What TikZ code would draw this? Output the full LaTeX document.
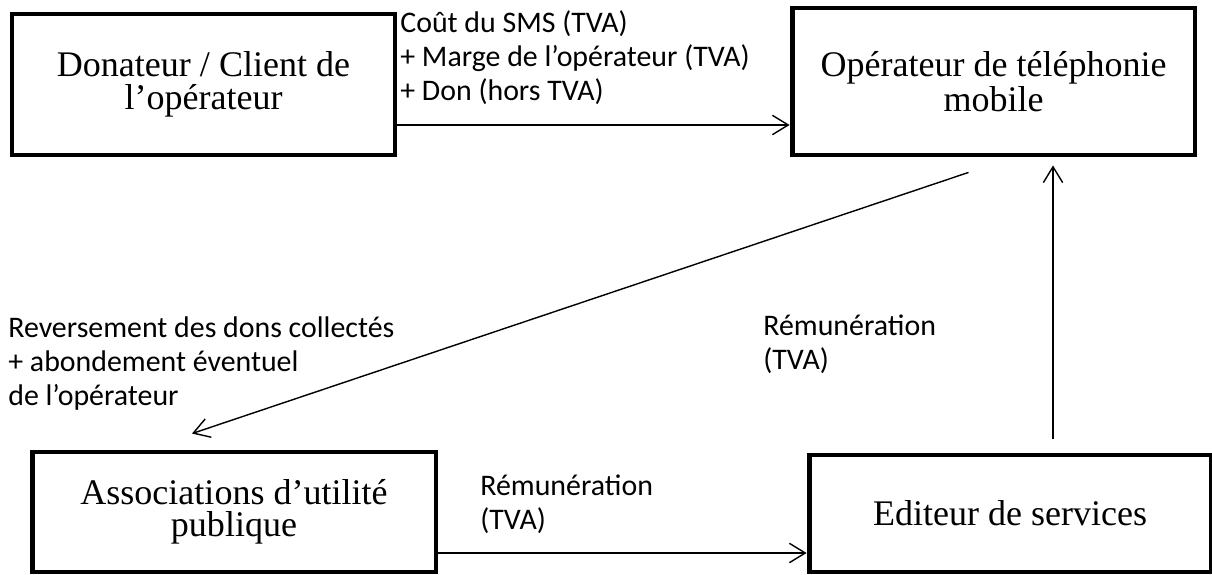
\documentclass[tikz,border=0pt]{standalone}
\usepackage{fontspec}
\setmainfont{Liberation Serif}
\newfontfamily\lblfont{Carlito}
\usetikzlibrary{arrows.meta, calc, positioning}

\begin{document}
\begin{tikzpicture}[x=0.02cm, y=-0.02cm,
  box/.style = {draw, line width=2.8pt, align=center, inner sep=0pt,
    font=\fontsize{20.5}{18.5}\selectfont},
  lbl/.style = {align=left, inner sep=0pt, anchor=north west,
    font=\lblfont\fontsize{17}{19.5}\selectfont},
  flow/.style = {-{Straight Barb[length=9pt, width=11pt]}, line width=0.8pt}]
\useasboundingbox (0,0) rectangle (1212,574);
\node [box, minimum width=7.66cm, minimum height=2.82cm] (don) at (203.5,84.5) {Donateur / Client de\\l’opérateur};
\node [box, minimum width=8.06cm, minimum height=2.94cm] (oper) at (993.5,81.5) {Opérateur de téléphonie\\mobile};
\node [box, minimum width=8.08cm, minimum height=2.40cm] (assoc) at (234,512) {Associations d’utilité\\publique};
\node [box, minimum width=8.04cm, minimum height=2.34cm] (edit) at (1010,513.5) {Editeur de services};
\coordinate (a1) at ([yshift=-0.81cm]don.east);
\draw [flow] (a1) -- (a1 -| oper.west);
\draw [flow] ([xshift=-0.5cm, yshift=-0.3cm]oper.south) -- ([xshift=-0.84cm, yshift=0.32cm]assoc.north);
\coordinate (a3) at ([xshift=0.86cm, yshift=0.28cm]edit.north);
\draw [flow] (a3) -- ([yshift=-0.16cm]a3 |- oper.south);
\coordinate (a4) at ([yshift=-0.82cm]assoc.east);
\draw [flow] (a4) -- (a4 -| edit.west);
\node [lbl] (cout) at (400,10) {Coût du SMS (TVA)\\+ Marge de l’opérateur (TVA)\\+ Don (hors TVA)};
\node [lbl] (rev) at (8,316) {Reversement des dons collectés\\+ abondement éventuel\\de l’opérateur};
\node [lbl] (remA) at (763,314) {Rémunération\\(TVA)};
\node [lbl] (remB) at (480,474) {Rémunération\\(TVA)};
\end{tikzpicture}
\end{document}
